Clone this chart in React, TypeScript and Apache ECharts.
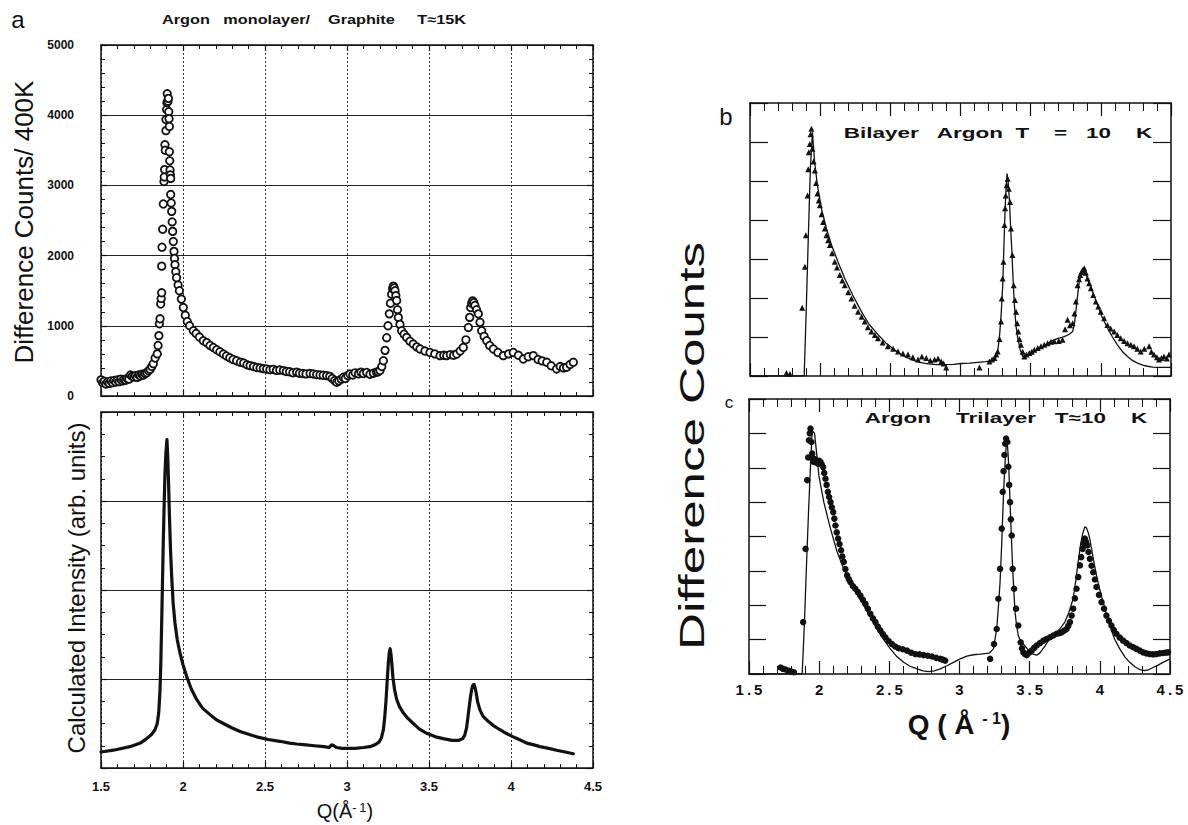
import React, { useEffect, useRef } from "react";
import * as echarts from "echarts";

const FONT = '"Liberation Sans", Arial, Helvetica, sans-serif';
const INK = "#111";

// ---- tick labels ----
const qTickLabelsA = ["1.5", "2", "2.5", "3", "3.5", "4", "4.5"];
const qTickLabelsC = ["1\u2009.\u20095", "2", "2\u2009.\u20095", "3", "3\u2009.\u20095", "4", "4\u2009.\u20095"];
const countTickLabels = ["0", "1000", "2000", "3000", "4000", "5000"];

// ---- panel a (top): Argon monolayer / graphite, difference counts per 400K monitor ----
const monolayerData: [number, number][] = [
  [1.500,230],[1.510,190],[1.520,210],[1.530,170],[1.540,200],[1.550,180],[1.560,215],[1.570,190],[1.580,220],[1.590,200],
  [1.600,230],[1.610,205],[1.620,240],[1.630,215],[1.640,235],[1.650,225],[1.660,250],[1.670,240],[1.680,300],[1.690,280],
  [1.700,270],[1.710,290],[1.720,265],[1.730,300],[1.740,285],[1.750,310],[1.760,300],[1.770,320],[1.780,330],[1.790,360],
  [1.800,380],[1.810,420],[1.819,460],[1.830,540],[1.843,600],[1.848,720],[1.853,860],[1.856,1030],[1.860,1100],[1.864,1310],
  [1.867,1390],[1.870,1470],[1.870,1850],[1.872,2120],[1.876,2375],[1.880,2735],[1.884,3055],[1.886,3120],[1.888,3225],[1.890,3580],
  [1.892,3500],[1.896,3780],[1.896,3940],[1.900,4080],[1.902,4180],[1.904,4305],[1.908,4200],[1.911,4240],[1.913,4050],[1.915,3950],
  [1.917,3840],[1.917,3480],[1.919,3350],[1.921,3220],[1.923,3150],[1.925,3100],[1.925,2870],[1.928,2750],[1.931,2630],[1.934,2480],
  [1.937,2345],[1.941,2200],[1.945,2060],[1.948,1960],[1.951,1870],[1.956,1770],[1.961,1685],[1.970,1580],[1.978,1500],[1.990,1380],
  [2.002,1260],[2.014,1150],[2.026,1060],[2.040,1000],[2.063,930],[2.080,890],[2.100,840],[2.124,787],[2.145,760],[2.165,720],
  [2.185,692],[2.205,660],[2.225,630],[2.246,598],[2.265,570],[2.285,545],[2.305,520],[2.327,503],[2.350,480],[2.370,470],
  [2.390,445],[2.409,433],[2.430,420],[2.450,405],[2.470,400],[2.490,390],[2.510,385],[2.530,375],[2.550,380],[2.570,365],
  [2.590,370],[2.612,362],[2.630,350],[2.650,345],[2.670,330],[2.693,340],[2.710,325],[2.730,320],[2.750,315],[2.775,320],
  [2.795,314],[2.815,305],[2.835,300],[2.855,295],[2.876,290],[2.895,280],[2.910,250],[2.925,220],[2.937,196],[2.950,215],
  [2.965,240],[2.978,267],[2.990,250],[3.005,290],[3.018,314],[3.035,300],[3.050,330],[3.070,315],[3.085,340],[3.100,320],
  [3.120,335],[3.140,310],[3.161,325],[3.180,340],[3.190,345],[3.201,362],[3.212,420],[3.222,503],[3.232,650],[3.242,830],
  [3.250,1000],[3.258,1170],[3.265,1320],[3.272,1450],[3.278,1530],[3.283,1565],[3.288,1540],[3.293,1500],[3.298,1430],[3.303,1360],
  [3.308,1230],[3.313,1120],[3.323,1020],[3.333,930],[3.348,880],[3.364,835],[3.384,780],[3.404,740],[3.425,700],[3.445,670],
  [3.475,640],[3.506,620],[3.535,600],[3.567,575],[3.590,580],[3.608,575],[3.630,590],[3.650,580],[3.669,598],[3.690,640],
  [3.709,692],[3.725,800],[3.740,976],[3.748,1120],[3.754,1260],[3.760,1320],[3.766,1355],[3.773,1330],[3.780,1290],[3.790,1230],
  [3.801,1170],[3.811,1050],[3.821,930],[3.836,850],[3.852,787],[3.870,720],[3.892,670],[3.920,620],[3.953,575],[3.985,600],
  [4.014,620],[4.045,580],[4.075,527],[4.105,560],[4.136,575],[4.165,520],[4.190,500],[4.218,480],[4.245,430],[4.278,385],
  [4.300,420],[4.320,400],[4.339,410],[4.360,450],[4.380,480],
];

// ---- panel a (bottom): calculated intensity (arb. units) ----
const calculatedData: [number, number][] = [
  [1.500,0.18],[1.575,0.20],[1.677,0.24],[1.740,0.28],[1.778,0.33],[1.810,0.38],[1.829,0.43],[1.843,0.50],[1.852,0.62],[1.860,0.88],
  [1.865,1.20],[1.870,1.63],[1.875,2.10],[1.880,2.56],[1.885,2.95],[1.890,3.31],[1.896,3.55],[1.902,3.69],[1.907,3.50],[1.912,3.20],
  [1.917,2.85],[1.924,2.45],[1.931,2.15],[1.940,1.85],[1.951,1.63],[1.965,1.44],[1.982,1.29],[2.000,1.16],[2.022,1.03],[2.050,0.89],
  [2.083,0.77],[2.120,0.67],[2.165,0.60],[2.205,0.54],[2.246,0.50],[2.300,0.45],[2.348,0.41],[2.400,0.38],[2.449,0.35],[2.520,0.32],
  [2.591,0.30],[2.650,0.28],[2.693,0.27],[2.750,0.26],[2.800,0.25],[2.860,0.24],[2.890,0.23],[2.906,0.26],[2.920,0.25],[2.937,0.23],
  [2.970,0.22],[3.000,0.22],[3.050,0.22],[3.100,0.23],[3.140,0.24],[3.170,0.26],[3.195,0.29],[3.210,0.34],[3.222,0.43],[3.230,0.57],
  [3.238,0.76],[3.245,0.98],[3.252,1.18],[3.258,1.30],[3.263,1.34],[3.268,1.28],[3.273,1.18],[3.280,1.02],[3.290,0.88],[3.303,0.77],
  [3.320,0.69],[3.343,0.62],[3.370,0.56],[3.404,0.50],[3.440,0.44],[3.486,0.39],[3.540,0.35],[3.587,0.33],[3.640,0.31],[3.680,0.31],
  [3.705,0.33],[3.718,0.37],[3.729,0.45],[3.738,0.58],[3.746,0.70],[3.753,0.80],[3.760,0.88],[3.767,0.93],[3.774,0.94],[3.780,0.91],
  [3.787,0.85],[3.797,0.74],[3.811,0.65],[3.830,0.58],[3.852,0.54],[3.890,0.48],[3.933,0.43],[3.970,0.39],[4.014,0.35],[4.050,0.32],
  [4.096,0.28],[4.140,0.26],[4.177,0.24],[4.230,0.22],[4.278,0.20],[4.330,0.18],[4.380,0.16],
];

// ---- panel b: bilayer argon, T = 10 K ----
const bilayerData: [number, number][] = [
  [1.760,0.08],[1.785,0.05],[1.872,1.75],[1.891,2.80],[1.898,3.61],[1.910,4.63],[1.915,5.30],[1.919,5.74],[1.926,5.95],[1.932,6.20],
  [1.938,6.34],[1.945,5.83],[1.953,5.50],[1.962,5.27],[1.971,4.95],[1.981,4.68],[1.990,4.50],[1.998,4.38],[2.010,4.15],[2.021,3.95],
  [2.033,3.78],[2.045,3.61],[2.057,3.48],[2.069,3.36],[2.085,3.15],[2.104,2.93],[2.120,2.78],[2.140,2.59],[2.158,2.45],[2.175,2.33],
  [2.200,2.15],[2.223,1.99],[2.245,1.80],[2.270,1.65],[2.295,1.52],[2.318,1.40],[2.340,1.25],[2.365,1.14],[2.390,1.05],[2.412,0.97],
  [2.445,0.86],[2.483,0.76],[2.520,0.70],[2.555,0.63],[2.590,0.58],[2.626,0.55],[2.660,0.48],[2.697,0.42],[2.725,0.50],[2.756,0.46],
  [2.785,0.40],[2.815,0.42],[2.840,0.45],[2.863,0.37],[2.880,0.32],[2.898,0.22],[3.135,0.22],[3.206,0.37],[3.225,0.42],[3.242,0.46],
  [3.255,0.55],[3.265,0.63],[3.278,0.95],[3.289,1.40],[3.294,1.99],[3.300,2.50],[3.306,2.93],[3.313,3.87],[3.318,4.30],[3.322,4.63],
  [3.329,4.89],[3.336,5.06],[3.344,4.80],[3.353,4.46],[3.360,3.78],[3.370,3.10],[3.379,2.33],[3.388,1.95],[3.396,1.65],[3.404,1.35],
  [3.412,1.14],[3.420,0.95],[3.431,0.80],[3.443,0.62],[3.455,0.50],[3.470,0.55],[3.491,0.59],[3.508,0.62],[3.526,0.67],[3.550,0.72],
  [3.573,0.76],[3.597,0.80],[3.621,0.84],[3.645,0.88],[3.668,0.89],[3.700,0.90],[3.727,0.93],[3.745,1.20],[3.763,1.44],[3.780,1.30],
  [3.799,1.35],[3.812,1.60],[3.822,1.91],[3.834,2.33],[3.845,2.48],[3.853,2.59],[3.862,2.66],[3.870,2.72],[3.882,2.76],[3.893,2.65],
  [3.905,2.50],[3.917,2.38],[3.929,2.25],[3.946,2.08],[3.964,1.91],[3.982,1.78],[4.000,1.65],[4.024,1.48],[4.047,1.31],[4.070,1.22],
  [4.095,1.14],[4.118,1.05],[4.142,0.97],[4.166,0.90],[4.190,0.84],[4.214,0.80],[4.237,0.76],[4.260,0.70],[4.284,0.63],[4.310,0.70],
  [4.344,0.76],[4.360,0.62],[4.379,0.55],[4.400,0.48],[4.415,0.42],[4.432,0.46],[4.450,0.50],[4.470,0.45],[4.486,0.55],
];
const bilayerFit: [number, number][] = [
  [1.500,0],[1.886,0],[1.900,1.60],[1.915,3.50],[1.930,5.30],[1.945,6.25],[1.960,5.50],[1.980,4.90],[2.009,4.29],[2.045,3.78],
  [2.081,3.36],[2.130,2.90],[2.175,2.50],[2.235,2.05],[2.294,1.65],[2.350,1.32],[2.412,1.06],[2.470,0.84],[2.531,0.67],[2.590,0.52],
  [2.650,0.42],[2.710,0.35],[2.768,0.31],[2.830,0.29],[2.886,0.29],[2.950,0.30],[3.005,0.32],[3.065,0.33],[3.123,0.35],[3.180,0.37],
  [3.218,0.39],[3.240,0.43],[3.253,0.50],[3.265,0.65],[3.277,0.97],[3.290,1.60],[3.301,2.33],[3.310,3.40],[3.318,4.29],[3.325,4.85],
  [3.332,5.19],[3.340,4.95],[3.348,4.55],[3.356,3.90],[3.365,3.27],[3.375,2.45],[3.384,1.82],[3.395,1.30],[3.408,0.97],[3.425,0.68],
  [3.443,0.50],[3.460,0.52],[3.479,0.55],[3.515,0.61],[3.550,0.67],[3.600,0.78],[3.645,0.89],[3.690,0.96],[3.739,1.01],[3.775,1.07],
  [3.799,1.14],[3.812,1.35],[3.822,1.65],[3.834,2.05],[3.846,2.42],[3.860,2.62],[3.877,2.72],[3.890,2.65],[3.905,2.50],[3.940,2.17],
  [3.976,1.82],[4.010,1.50],[4.047,1.23],[4.083,1.00],[4.118,0.80],[4.155,0.62],[4.190,0.50],[4.225,0.40],[4.261,0.33],[4.300,0.28],
  [4.332,0.25],[4.370,0.23],[4.403,0.22],[4.450,0.22],[4.500,0.22],
];

// ---- panel c: argon trilayer, T ≈ 10 K ----
const trilayerData: [number, number][] = [
  [1.725,0.19],[1.742,0.15],[1.760,0.13],[1.780,0.10],[1.800,0.07],[1.820,0.05],[1.886,1.51],[1.903,3.64],[1.915,5.64],[1.922,6.30],
  [1.927,6.80],[1.933,7.00],[1.938,7.14],[1.945,6.75],[1.950,6.41],[1.956,6.25],[1.962,6.17],[1.968,6.25],[1.974,6.22],[1.982,6.15],
  [1.991,6.12],[2.000,6.20],[2.009,6.17],[2.018,6.10],[2.028,6.02],[2.036,5.85],[2.045,5.68],[2.053,5.50],[2.062,5.30],[2.071,5.15],
  [2.081,5.00],[2.090,4.85],[2.100,4.71],[2.108,4.52],[2.116,4.32],[2.125,4.12],[2.135,3.94],[2.145,3.78],[2.156,3.60],[2.165,3.42],
  [2.175,3.26],[2.187,3.05],[2.199,2.87],[2.211,2.76],[2.223,2.67],[2.240,2.56],[2.258,2.48],[2.276,2.38],[2.294,2.28],[2.312,2.16],
  [2.330,2.04],[2.347,1.90],[2.365,1.75],[2.383,1.62],[2.401,1.51],[2.418,1.38],[2.436,1.27],[2.454,1.16],[2.472,1.07],[2.495,0.96],
  [2.519,0.87],[2.542,0.80],[2.566,0.75],[2.596,0.72],[2.626,0.68],[2.655,0.62],[2.685,0.58],[2.715,0.57],[2.744,0.55],[2.774,0.53],
  [2.804,0.51],[2.834,0.47],[2.863,0.44],[2.880,0.42],[2.898,0.39],[3.218,0.44],[3.246,0.87],[3.265,1.31],[3.277,2.19],[3.289,3.06],
  [3.301,4.23],[3.308,5.30],[3.314,5.90],[3.320,6.37],[3.326,6.70],[3.332,6.85],[3.341,6.75],[3.348,6.03],[3.354,5.50],[3.360,5.00],
  [3.366,4.50],[3.372,4.03],[3.379,3.06],[3.389,2.48],[3.403,1.90],[3.419,1.41],[3.436,0.92],[3.445,0.75],[3.455,0.63],[3.467,0.58],
  [3.479,0.55],[3.496,0.62],[3.514,0.68],[3.532,0.76],[3.550,0.83],[3.573,0.90],[3.597,0.97],[3.621,1.02],[3.645,1.07],[3.668,1.12],
  [3.692,1.17],[3.710,1.19],[3.727,1.21],[3.745,1.26],[3.763,1.31],[3.775,1.40],[3.787,1.51],[3.799,1.70],[3.810,1.90],[3.822,2.20],
  [3.834,2.48],[3.846,2.82],[3.858,3.16],[3.867,3.40],[3.877,3.64],[3.885,3.80],[3.893,3.94],[3.901,3.85],[3.910,3.74],[3.919,3.55],
  [3.929,3.35],[3.941,3.15],[3.953,2.96],[3.965,2.75],[3.976,2.53],[3.994,2.30],[4.012,2.09],[4.030,1.90],[4.047,1.70],[4.065,1.55],
  [4.083,1.41],[4.100,1.28],[4.118,1.17],[4.142,1.06],[4.166,0.97],[4.190,0.90],[4.213,0.83],[4.237,0.78],[4.261,0.73],[4.285,0.68],
  [4.308,0.63],[4.332,0.60],[4.356,0.58],[4.380,0.57],[4.403,0.58],[4.427,0.60],[4.450,0.61],[4.470,0.62],[4.486,0.63],
];
const trilayerFit: [number, number][] = [
  [1.500,0],[1.879,0],[1.895,1.50],[1.910,3.20],[1.925,4.80],[1.938,6.03],[1.950,7.09],[1.967,7.00],[1.980,6.50],[1.998,5.77],
  [2.033,5.00],[2.081,4.22],[2.128,3.55],[2.175,3.06],[2.246,2.48],[2.318,1.99],[2.365,1.65],[2.412,1.31],[2.460,1.00],[2.507,0.73],
  [2.555,0.50],[2.602,0.34],[2.650,0.22],[2.697,0.15],[2.740,0.09],[2.780,0.07],[2.820,0.09],[2.863,0.15],[2.910,0.24],[2.957,0.34],
  [3.005,0.44],[3.052,0.52],[3.100,0.56],[3.147,0.58],[3.213,0.61],[3.242,0.73],[3.265,1.31],[3.278,2.00],[3.289,2.67],[3.300,3.70],
  [3.308,4.61],[3.316,5.45],[3.325,6.17],[3.331,6.55],[3.337,6.74],[3.343,6.60],[3.348,6.27],[3.354,5.70],[3.360,5.00],[3.370,3.95],
  [3.379,3.06],[3.388,2.35],[3.396,1.80],[3.407,1.40],[3.419,1.12],[3.436,0.95],[3.455,0.87],[3.480,0.75],[3.502,0.63],[3.525,0.58],
  [3.550,0.55],[3.570,0.60],[3.585,0.68],[3.610,0.82],[3.633,0.97],[3.660,1.09],[3.692,1.21],[3.720,1.34],[3.751,1.51],[3.780,1.80],
  [3.810,2.19],[3.828,2.70],[3.846,3.26],[3.862,3.75],[3.877,4.07],[3.893,4.28],[3.905,4.25],[3.917,4.12],[3.929,3.92],[3.941,3.64],
  [3.958,3.25],[3.976,2.87],[4.000,2.45],[4.024,2.09],[4.047,1.74],[4.071,1.41],[4.105,1.02],[4.142,0.73],[4.178,0.50],[4.213,0.34],
  [4.250,0.21],[4.284,0.13],[4.320,0.10],[4.350,0.13],[4.379,0.19],[4.415,0.26],[4.450,0.34],[4.500,0.44],
];

const qIndex = (v: number) => Math.round((v - 1.5) / 0.5);

function qAxis(gridIndex: number, position: "top" | "bottom", o: any) {
  return {
    type: "value",
    gridIndex,
    position,
    min: 1.5,
    max: 4.5,
    interval: 0.5,
    axisLine: { show: true, onZero: false, lineStyle: { color: INK, width: 1.5 } },
    axisTick: { show: true, inside: true, length: o.tick, lineStyle: { color: INK, width: 1.2 } },
    minorTick: { show: true, splitNumber: 5, length: o.minor, lineStyle: { color: INK, width: 1 } },
    minorSplitLine: { show: false },
    splitLine: o.grid
      ? { show: true, lineStyle: { color: "#333", width: 1, type: [2, 2] } }
      : { show: false },
    axisLabel: o.labels
      ? {
          show: true,
          color: INK,
          fontFamily: FONT,
          fontWeight: "bold",
          fontSize: o.fontSize,
          margin: o.margin,
          formatter: (v: number) => o.labels[qIndex(v)] ?? "",
        }
      : { show: false },
  };
}

function vAxis(gridIndex: number, position: "left" | "right", o: any) {
  return {
    type: "value",
    gridIndex,
    position,
    min: 0,
    max: o.max,
    interval: o.interval,
    axisLine: { show: true, onZero: false, lineStyle: { color: INK, width: 1.5 } },
    axisTick: { show: true, inside: true, length: o.tick, lineStyle: { color: INK, width: 1.2 } },
    minorTick: o.minor
      ? { show: true, splitNumber: o.minor, length: 4, lineStyle: { color: INK, width: 1 } }
      : { show: false },
    minorSplitLine: { show: false },
    splitLine: o.grid
      ? { show: true, lineStyle: { color: "#222", width: 1.2, type: "solid" } }
      : { show: false },
    axisLabel: o.labels
      ? {
          show: true,
          color: INK,
          fontFamily: FONT,
          fontWeight: "bold",
          fontSize: 12,
          margin: 27,
          formatter: (v: number) => o.labels[Math.round(v / o.interval)] ?? "",
        }
      : { show: false },
  };
}

function txt(text: string, x: number, y: number, fontSize: number, extra: any = {}, style: any = {}) {
  return {
    type: "text",
    x,
    y,
    ...extra,
    style: {
      text,
      fontSize,
      fontFamily: FONT,
      fill: INK,
      align: "center",
      verticalAlign: "middle",
      ...style,
    },
  };
}

export default function App() {
  const ref = useRef<HTMLDivElement>(null);

  useEffect(() => {
    if (!ref.current) return;
    const chart = echarts.init(ref.current, undefined, { renderer: "svg" });

    const option: any = {
      animation: false,
      backgroundColor: "#ffffff",
      grid: [
        { left: 101, top: 45, width: 492, height: 351, outerBoundsMode: "none" },
        { left: 101, top: 412, width: 492, height: 356, outerBoundsMode: "none" },
        { left: 750, top: 103, width: 421, height: 273, outerBoundsMode: "none" },
        { left: 749, top: 399, width: 421, height: 275, outerBoundsMode: "none" },
      ],
      xAxis: [
        qAxis(0, "bottom", { tick: 6, minor: 4, grid: true }),
        qAxis(0, "top", { tick: 6, minor: 4 }),
        qAxis(1, "bottom", { tick: 6, minor: 4, grid: true, labels: qTickLabelsA, fontSize: 13, margin: 12 }),
        qAxis(1, "top", { tick: 6, minor: 4 }),
        qAxis(2, "bottom", { tick: 13, minor: 8 }),
        qAxis(2, "top", { tick: 13, minor: 8 }),
        qAxis(3, "bottom", { tick: 13, minor: 8, labels: qTickLabelsC, fontSize: 15, margin: 8 }),
        qAxis(3, "top", { tick: 13, minor: 8 }),
      ],
      yAxis: [
        vAxis(0, "left", { max: 5000, interval: 1000, tick: 6, minor: 5, grid: true, labels: countTickLabels }),
        vAxis(0, "right", { max: 5000, interval: 1000, tick: 6, minor: 5 }),
        vAxis(1, "left", { max: 4, interval: 1, tick: 6, minor: 4, grid: true }),
        vAxis(1, "right", { max: 4, interval: 1, tick: 6, minor: 4 }),
        vAxis(2, "left", { max: 7, interval: 1, tick: 18 }),
        vAxis(2, "right", { max: 7, interval: 1, tick: 18 }),
        vAxis(3, "left", { max: 8, interval: 1, tick: 17 }),
        vAxis(3, "right", { max: 8, interval: 1, tick: 17 }),
      ],
      series: [
        {
          name: "Argon monolayer",
          type: "scatter",
          xAxisIndex: 0,
          yAxisIndex: 0,
          data: monolayerData,
          symbol: "circle",
          symbolSize: 7.5,
          itemStyle: { color: "#ffffff", borderColor: INK, borderWidth: 1.8, opacity: 1 },
          z: 3,
        },
        {
          name: "Calculated",
          type: "line",
          xAxisIndex: 2,
          yAxisIndex: 2,
          data: calculatedData,
          showSymbol: false,
          lineStyle: { color: INK, width: 3.2, join: "round", cap: "round" },
          z: 3,
        },
        {
          name: "Bilayer fit",
          type: "line",
          xAxisIndex: 4,
          yAxisIndex: 4,
          data: bilayerFit,
          showSymbol: false,
          lineStyle: { color: INK, width: 1.3 },
          z: 2,
        },
        {
          name: "Bilayer data",
          type: "scatter",
          xAxisIndex: 4,
          yAxisIndex: 4,
          data: bilayerData,
          symbol: "triangle",
          symbolSize: 6,
          itemStyle: { color: INK, opacity: 1 },
          z: 3,
        },
        {
          name: "Trilayer fit",
          type: "line",
          xAxisIndex: 6,
          yAxisIndex: 6,
          data: trilayerFit,
          showSymbol: false,
          lineStyle: { color: INK, width: 1.3 },
          z: 2,
        },
        {
          name: "Trilayer data",
          type: "scatter",
          xAxisIndex: 6,
          yAxisIndex: 6,
          data: trilayerData,
          symbol: "circle",
          symbolSize: 6.5,
          itemStyle: { color: INK, opacity: 1 },
          z: 3,
        },
      ],
      graphic: [
        txt("a", 18, 19, 24),
        txt("Argon   monolayer/    Graphite     T\u224815K", 314, 20, 13, { scaleX: 1.25 }, { fontWeight: "bold" }),
        txt("Difference Counts/ 400K", 24, 222, 26, { rotation: Math.PI / 2 }),
        txt("Calculated Intensity (arb. units)", 76, 588, 24, { rotation: Math.PI / 2 }),
        txt("", 345, 811, 20, {}, {
          text: "{m|Q(\u00C5}{s|-\u20091}{m|)}",
          rich: {
            m: { fontSize: 20, fontFamily: FONT, fill: INK },
            s: { fontSize: 13, fontFamily: FONT, fill: INK, verticalAlign: "top" },
          },
        }),
        txt("b", 726, 116, 24),
        txt("Bilayer   Argon  T    =   10    K", 998, 133, 15, { scaleX: 1.5 }, { fontWeight: "bold" }),
        txt("c", 729, 402, 17),
        txt("Argon    Trilayer   T\u224810    K", 1006, 418, 15, { scaleX: 1.5 }, { fontWeight: "bold" }),
        txt("Difference Counts", 692, 446, 35, { rotation: Math.PI / 2, scaleX: 1.46 }),
        txt("", 959, 724, 28, {}, {
          text: "{m|Q ( \u00C5 }{s|- 1}{m|)}",
          fontWeight: "bold",
          rich: {
            m: { fontSize: 28, fontFamily: FONT, fontWeight: "bold", fill: INK },
            s: { fontSize: 16, fontFamily: FONT, fontWeight: "bold", fill: INK, verticalAlign: "top" },
          },
        }),
      ],
    };

    chart.setOption(option);
    return () => chart.dispose();
  }, []);

  return (
    <div
      ref={ref}
      style={{ position: "absolute", left: 0, top: 0, width: 1188, height: 825, background: "#fff" }}
    />
  );
}
